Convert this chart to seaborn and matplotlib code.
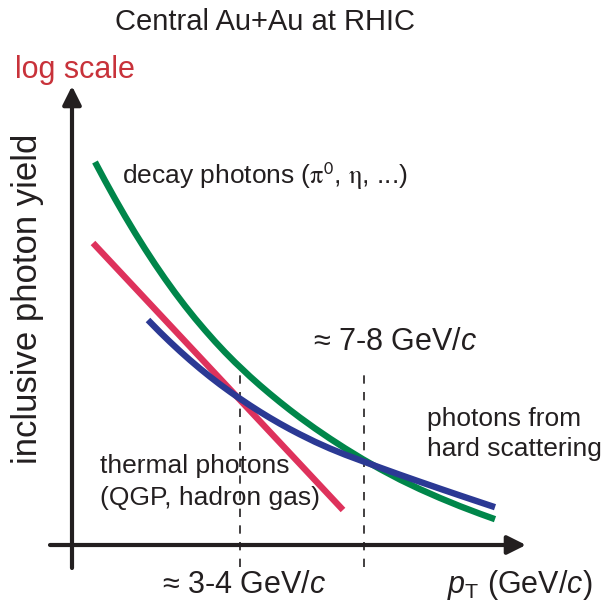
import numpy as np
import pandas as pd
import matplotlib
matplotlib.use("Agg")
import matplotlib.pyplot as plt
import seaborn as sns

# ---- schematic data (x: pT-like units, y: log-yield-like units; origin at axes crossing) ----
decay_x = [23, 33, 43, 53, 63, 73, 83, 93, 103, 113, 123, 133, 143, 153, 163, 178,
           188, 198, 208, 218, 228, 243, 258, 273, 291, 308, 328, 348, 368, 388, 408, 423]
decay_y = [383, 364.3, 346.2, 328.8, 312.1, 296.1, 280.8, 266.2, 252.3, 239.1, 226.6,
           214.8, 203.5, 192.8, 182.7, 168.5, 159.6, 151.1, 142.9, 135.0, 127.4, 116.6,
           106.4, 96.7, 85.7, 76.0, 65.4, 55.8, 47.0, 38.8, 31.2, 25.8]
hard_x = [76, 88, 98, 108, 118, 128, 138, 148, 158, 167, 178, 188, 198, 208, 218, 228,
          243, 258, 273, 291, 308, 328, 348, 368, 388, 408, 423]
hard_y = [225, 212.8, 203.1, 193.8, 184.9, 176.4, 168.3, 160.6, 153.3, 147, 139.6, 133.2,
          127.1, 121.3, 115.8, 110.6, 103.2, 96.5, 90.4, 83.7, 77.4, 70.2, 63.2, 56.3,
          49.5, 42.8, 37.8]
thermal_x = [21, 271]
thermal_y = [302, 35]
crossings_x = [168, 292]
crossings_top = [180, 177]
series_names = ["decay", "thermal", "hard"]
series_colors = ["#00864A", "#DE325C", "#2B3994"]

df = pd.concat([
    pd.DataFrame({"x": decay_x, "y": decay_y, "s": "decay"}),
    pd.DataFrame({"x": thermal_x, "y": thermal_y, "s": "thermal"}),
    pd.DataFrame({"x": hard_x, "y": hard_y, "s": "hard"}),
], ignore_index=True)

sns.set_theme(style="white")
plt.rcParams["font.family"] = ["Liberation Sans", "DejaVu Sans"]
plt.rcParams["mathtext.fontset"] = "custom"
plt.rcParams["mathtext.rm"] = "Liberation Sans"
plt.rcParams["mathtext.it"] = "Liberation Sans:italic"
plt.rcParams["mathtext.sf"] = "Liberation Sans"

W, H = 613, 615
OX, OY = 72, 545  # pixel position of origin
fig = plt.figure(figsize=(W / 100, H / 100), dpi=100)
ax = fig.add_axes([0, 0, 1, 1])
ax.set_xlim(-OX, W - OX)
ax.set_ylim(OY - H, OY)
ax.axis("off")

def P(px, py):
    return px - OX, OY - py

TXT = "#231F20"

# dashed guide lines
for cx, ct in zip(crossings_x, crossings_top):
    ax.plot([cx, cx], [-22, ct], color=TXT, lw=1.2, ls=(0, (5, 5)), zorder=1)

# curves
sns.lineplot(data=df, x="x", y="y", hue="s", hue_order=series_names,
             palette=dict(zip(series_names, series_colors)),
             sort=False, estimator=None, lw=4.6, legend=False, ax=ax, zorder=3)
for l in ax.lines:
    l.set_solid_capstyle("butt")
    l.set_solid_joinstyle("round")

# axes arrows
ax.annotate("", xy=P(72, 86), xytext=P(72, 568),
            arrowprops=dict(arrowstyle="-|>", lw=3, color=TXT, mutation_scale=28,
                            shrinkA=0, shrinkB=0), zorder=4)
ax.annotate("", xy=P(526, 545), xytext=P(50, 545),
            arrowprops=dict(arrowstyle="-|>", lw=3, color=TXT, mutation_scale=28,
                            shrinkA=0, shrinkB=0), zorder=4)

# texts
ax.text(*P(265, 30), "Central Au+Au at RHIC", ha="center", va="baseline",
        fontsize=21, color=TXT)
ax.text(*P(15, 78), "log scale", ha="left", va="baseline", fontsize=22, color="#C8323A")
ax.text(*P(28, 299), "inclusive photon yield", ha="center", va="center",
        rotation=90, fontsize=25, color=TXT)
ax.text(*P(122, 184), r"decay photons ($\mathrm{\pi}^{\mathsf{0}}$, $\mathrm{\eta}$, ...)",
        ha="left", va="baseline", fontsize=19, color=TXT, math_fontfamily="stix")
ax.text(*P(100, 473), "thermal photons", ha="left", va="baseline", fontsize=19, color=TXT)
ax.text(*P(100, 505), "(QGP, hadron gas)", ha="left", va="baseline", fontsize=19, color=TXT)
ax.text(*P(427, 426), "photons from", ha="left", va="baseline", fontsize=19, color=TXT)
ax.text(*P(427, 456), "hard scattering", ha="left", va="baseline", fontsize=19, color=TXT)
ax.text(*P(313, 350), "≈ 7-8 GeV/$c$", ha="left", va="baseline", fontsize=22, color=TXT)
ax.text(*P(162, 593), "≈ 3-4 GeV/$c$", ha="left", va="baseline", fontsize=22, color=TXT)
ax.text(*P(447, 593), r"$p_{\mathrm{T}}$ (GeV/$c$)", ha="left", va="baseline", fontsize=22, color=TXT)

fig.savefig("out.png", dpi=100)
